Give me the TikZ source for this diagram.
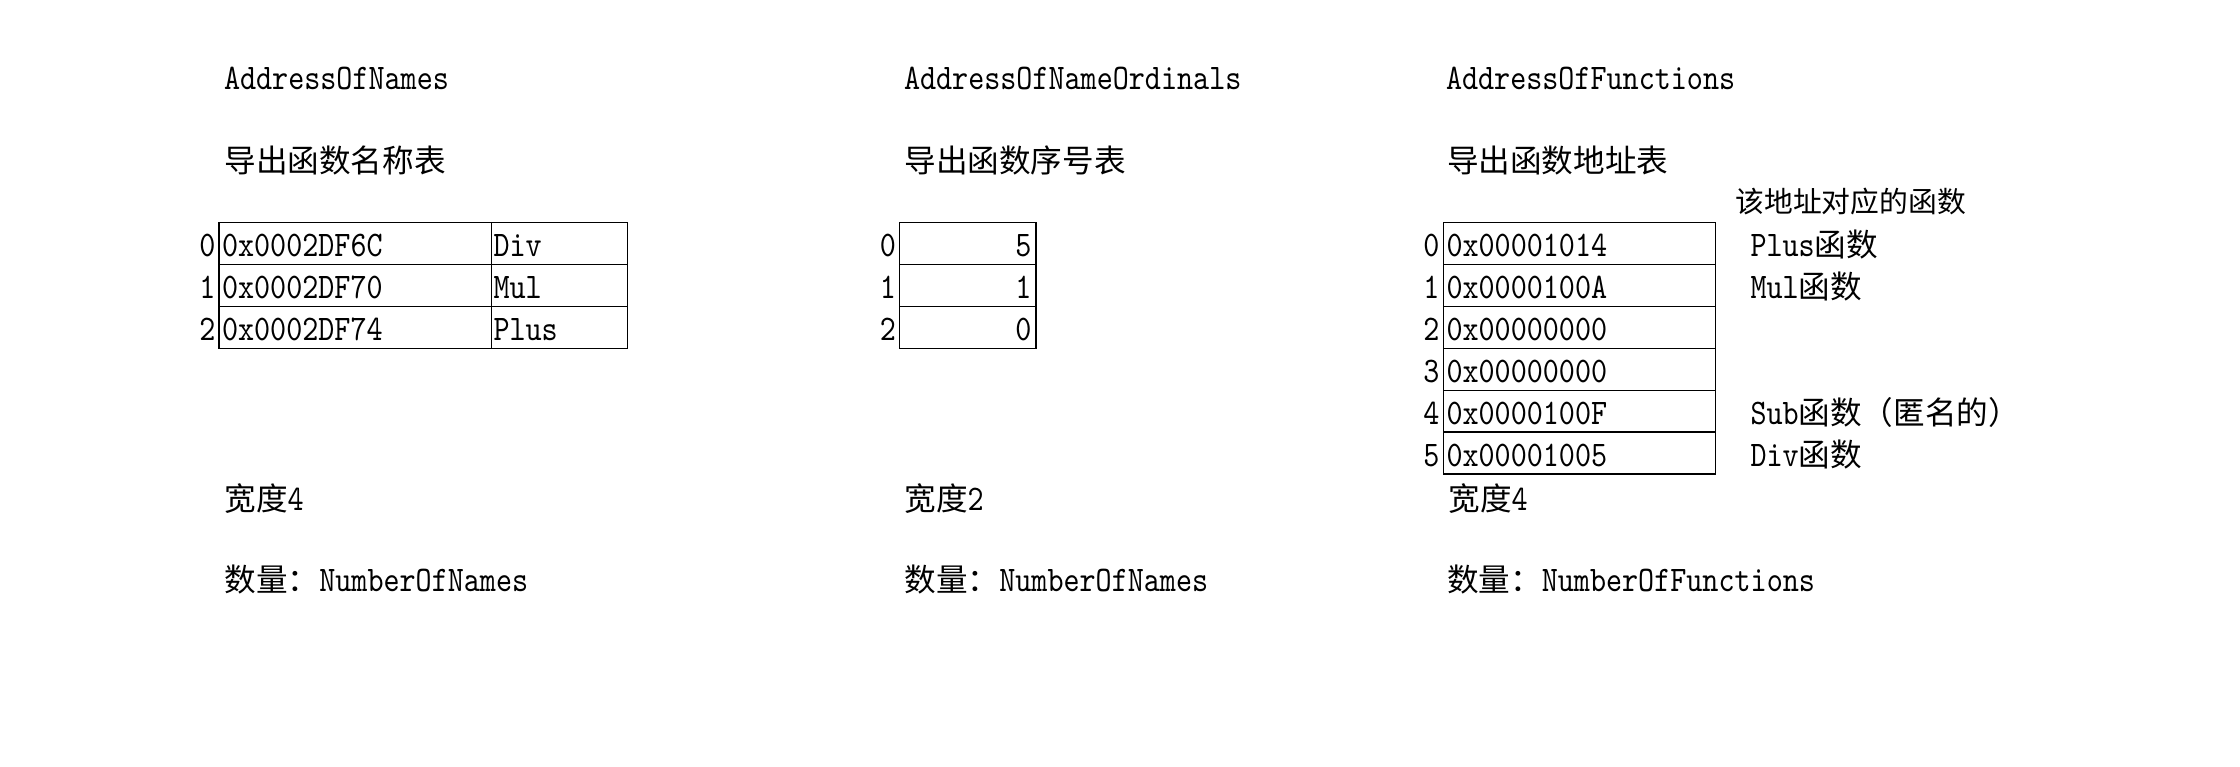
\documentclass[tikz,border=0pt]{standalone}
\usepackage{fontspec}
\setmonofont{lmmono10-regular.otf}[FakeStretch=0.85]
\newfontfamily\cjk{Noto Sans CJK SC}[Scale=0.878]
\begin{document}
\begin{tikzpicture}[x=1pt,y=-1pt,
  every node/.style={inner sep=0pt, outer sep=0pt, font=\fontsize{36}{40}\selectfont\ttfamily},
  txt/.style={anchor=base west},
  rtxt/.style={anchor=base east},
  idx/.style={anchor=base east},
  small/.style={font=\fontsize{32.8}{36}\selectfont\ttfamily},
  cell/.style={draw, line width=1.6pt, anchor=north west, minimum height=41.9pt},
]
\useasboundingbox[fill=white] (0,0) rectangle (2240,767);

% ---------- Table 1: AddressOfNames ----------
\node[txt] (t1a) at (224,89.3) {AddressOfNames};
\node[txt] (t1b) at (224.5,172.5) {\cjk 导出函数名称表};
\foreach \i/\a/\b in {0/0x0002DF6C/Div,1/0x0002DF70/Mul,2/0x0002DF74/Plus}{
  \node[cell, minimum width=272.5pt] (n\i a) at (219,{222.7+41.9*\i}) {};
  \node[cell, minimum width=135.8pt] (n\i b) at (491.5,{222.7+41.9*\i}) {};
  \node[idx] (ni\i) at (215.5,{256.7+41.9*\i}) {\i};
  \node[txt] (nv\i) at (222,{256.7+41.9*\i}) {\a};
  \node[txt] (nn\i) at (493.5,{256.7+41.9*\i}) {\b};
}
\node[txt] (t1c) at (224.5,510) {{\cjk 宽度}4};
\node[txt] (t1d) at (224.5,591) {{\cjk 数量：}NumberOfNames};

% ---------- Table 2: AddressOfNameOrdinals ----------
\node[txt] (t2a) at (904,89.3) {AddressOfNameOrdinals};
\node[txt] (t2b) at (904.5,172.5) {\cjk 导出函数序号表};
\foreach \i/\a in {0/5,1/1,2/0}{
  \node[cell, minimum width=136.4pt] (o\i) at (899.3,{222.7+41.9*\i}) {};
  \node[idx] (oi\i) at (896,{256.7+41.9*\i}) {\i};
  \node[rtxt] (ov\i) at (1031.5,{256.7+41.9*\i}) {\a};
}
\node[txt] (t2c) at (904.5,510) {{\cjk 宽度}2};
\node[txt] (t2d) at (904.5,591) {{\cjk 数量：}NumberOfNames};

% ---------- Table 3: AddressOfFunctions ----------
\node[txt] (t3a) at (1446,89.3) {AddressOfFunctions};
\node[txt] (t3b) at (1447,172.5) {\cjk 导出函数地址表};
\node[txt, small] (t3h) at (1735.5,213) {\cjk 该地址对应的函数};
\foreach \i/\a in {0/0x00001014,1/0x0000100A,2/0x00000000,3/0x00000000,4/0x0000100F,5/0x00001005}{
  \node[cell, minimum width=272pt] (f\i) at (1443.3,{222.7+41.9*\i}) {};
  \node[idx] (fi\i) at (1439.5,{256.7+41.9*\i}) {\i};
  \node[txt] (fv\i) at (1446.5,{256.7+41.9*\i}) {\a};
}
\node[txt] (fl0) at (1750.5,256.7) {Plus{\cjk 函数}};
\node[txt] (fl1) at (1750.5,298.6) {Mul{\cjk 函数}};
\node[txt] (fl4) at (1750.5,424.3) {Sub{\cjk 函数（匿名的）}};
\node[txt] (fl5) at (1750.5,466.2) {Div{\cjk 函数}};
\node[txt] (t3c) at (1448.5,510) {{\cjk 宽度}4};
\node[txt] (t3d) at (1447,591) {{\cjk 数量：}NumberOfFunctions};
\end{tikzpicture}
\end{document}
